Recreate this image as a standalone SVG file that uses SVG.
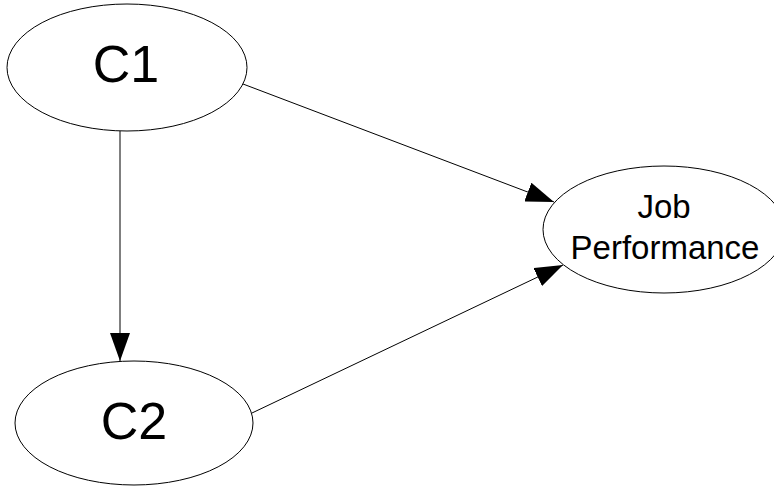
<svg xmlns="http://www.w3.org/2000/svg" width="774" height="486" viewBox="0 0 774 486">
<style>
.node ellipse{fill:#fff;stroke:#000;stroke-width:1}
.node text{font-family:"Liberation Sans",Arial,sans-serif;fill:#000;text-anchor:middle}
.big{font-size:52px}
.small{font-size:33px}
.edge{stroke:#000;stroke-width:1;fill:none;marker-end:url(#arrow)}
</style>
<defs>
<marker id="arrow" markerUnits="userSpaceOnUse" markerWidth="28" markerHeight="20" refX="28" refY="10" orient="auto" viewBox="0 0 28 20">
<path d="M0,0 L28,10 L0,20 Z" fill="#000"/>
</marker>
</defs>
<rect width="774" height="486" fill="#fff"/>
<g id="connectors">
<line class="edge" x1="120" y1="131" x2="120" y2="361"/>
<line class="edge" x1="243" y1="84" x2="554" y2="202"/>
<line class="edge" x1="252" y1="413" x2="563" y2="265"/>
</g>
<g id="C1" class="node">
<ellipse cx="127" cy="67.5" rx="120" ry="63.5"/>
<text class="big" x="126" y="82">C1</text>
</g>
<g id="C2" class="node">
<ellipse cx="134" cy="423" rx="119" ry="62"/>
<text class="big" x="134" y="439">C2</text>
</g>
<g id="JobPerformance" class="node">
<ellipse cx="664" cy="229.5" rx="121" ry="63.5"/>
<text class="small" x="664" y="218">Job</text>
<text class="small" x="665" y="259">Performance</text>
</g>
</svg>
